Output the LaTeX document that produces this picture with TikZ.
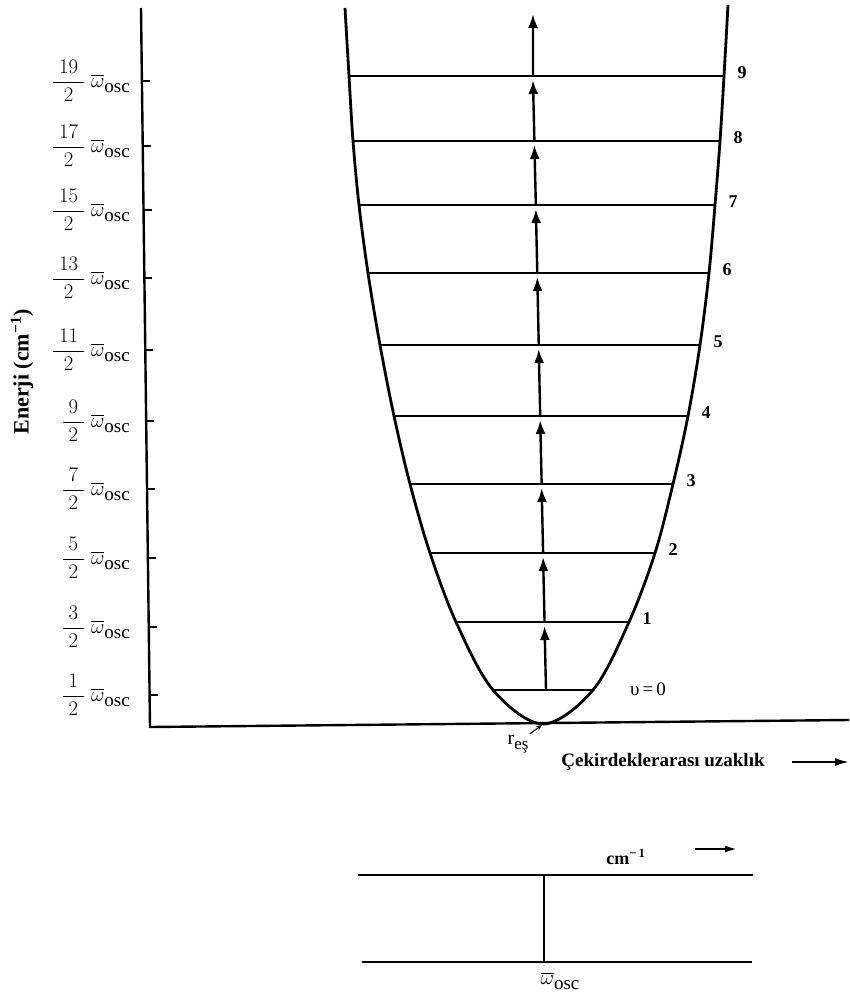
\documentclass[tikz,border=0pt]{standalone}
\usepackage{amsmath}
\usepackage{fontspec}
\setmainfont{Liberation Serif}
\usetikzlibrary{arrows.meta}

\newcommand{\wosc}{$\overline{\omega}$\raisebox{-0.5ex}{\fontsize{19}{19}\selectfont osc}}

\tikzset{
  axis/.style={line width=2.4pt},
  well/.style={line width=2.8pt},
  level/.style={line width=1.4pt},
  jump/.style={line width=2.4pt,-{Latex[length=14pt,width=10pt]}},
  lbl/.style={font=\fontsize{22}{24}\selectfont,anchor=east,inner sep=0pt},
  vnum/.style={font=\bfseries\fontsize{18}{20}\selectfont,inner sep=0pt},
}

\begin{document}
\begin{tikzpicture}[x=1pt,y=-1pt]
    \useasboundingbox (0,0) rectangle (849,996);

    % axes
    \coordinate (ytop) at (141,8);
    \coordinate (O) at (150,727);
    \coordinate (xend) at (849,720);
    \draw[axis] (ytop) -- (O) -- (xend);
    \node[rotate=90,font=\bfseries\fontsize{22}{24}\selectfont] (elabel) at (22,372) {Enerji (cm\textsuperscript{−1})};

    % potential well
    \draw[well] plot[smooth,tension=0.55] coordinates {
        (345,8) (349,76) (353,141) (359,205) (368,273) (380,345) (394,416)
        (410,484) (430,553) (456,622) (493,690) (543,724) (593,690) (629,622)
        (655,553) (673,484) (688,416) (700,345) (709,273) (715,205) (720,141)
        (724,76) (728,5)};

    % vibrational levels
    \foreach \n/\y/\xl/\xr in {0/690/493/593, 1/622/456/629, 2/553/430/655,
        3/484/410/673, 4/416/394/688, 5/345/380/700, 6/273/368/709,
        7/205/359/715, 8/141/353/720, 9/76/349/724} {
        \pgfmathtruncatemacro{\k}{2*\n+1}
        \pgfmathsetmacro{\xa}{141+9*(\y-4)/719}
        \draw[level] (\xl,\y) -- (\xr,\y);
        \draw[line width=1.4pt] (\xa,\y+5) -- ++(8,0);
        \node[lbl] (e\n) at (130,\y+5) {$\dfrac{\;\k\;}{2}$\hspace{6pt}\wosc};
        \coordinate (v\n) at ({546-1.45*\n},\y);
        \ifnum\n>0 \node[vnum] (q\n) at (\xr+18,\y-3) {\n}; \fi
    }
    \node[font=\fontsize{19}{20}\selectfont] (q0) at (648,689) {υ\,=\,0};

    % transitions
    \foreach \n [evaluate=\n as \m using int(\n+1)] in {0,...,8}
        \draw[jump] (v\n) -- ([yshift=-4pt]v\m);
    \coordinate (vtop) at (533,14);
    \draw[jump] (v9) -- (vtop);

    % equilibrium distance
    \coordinate (bot) at (542,725);
    \node[font=\fontsize{20}{22}\selectfont,inner sep=1pt] (req) at (518,744) {r\raisebox{-0.5ex}{\fontsize{17}{17}\selectfont eş}};
    \draw[line width=1pt,-{Stealth[length=6pt,width=5pt]}] (req.north east) -- (bot);
    \node[font=\bfseries\fontsize{19}{22}\selectfont] (dist) at (663,762) {Çekirdeklerarası uzaklık};
    \coordinate (dend) at (849,762);
    \draw[line width=2pt,-{Latex[length=14pt,width=8pt]}] ([xshift=24pt]dist.east) -- (dend);

    % spectrum
    \coordinate (a1) at (358,875);
    \coordinate (a2) at (753,875);
    \coordinate (b1) at (362,962);
    \coordinate (b2) at (752,962);
    \coordinate (m1) at (544,875);
    \coordinate (m2) at (544,962);
    \draw[line width=2pt] (a1) -- (a2);
    \draw[line width=2pt] (b1) -- (b2);
    \draw[line width=2pt] (m1) -- (m2);
    \node[font=\bfseries\fontsize{18}{20}\selectfont] (unit) at (626,857) {cm\textsuperscript{−\,1}};
    \coordinate (ustart) at (695,849);
    \coordinate (uend) at (737,849);
    \draw[line width=2pt,-{Latex[length=12pt,width=7pt]}] (ustart) -- (uend);
    \node[font=\fontsize{22}{22}\selectfont] (w) at (560,981) {\wosc};
\end{tikzpicture}
\end{document}
